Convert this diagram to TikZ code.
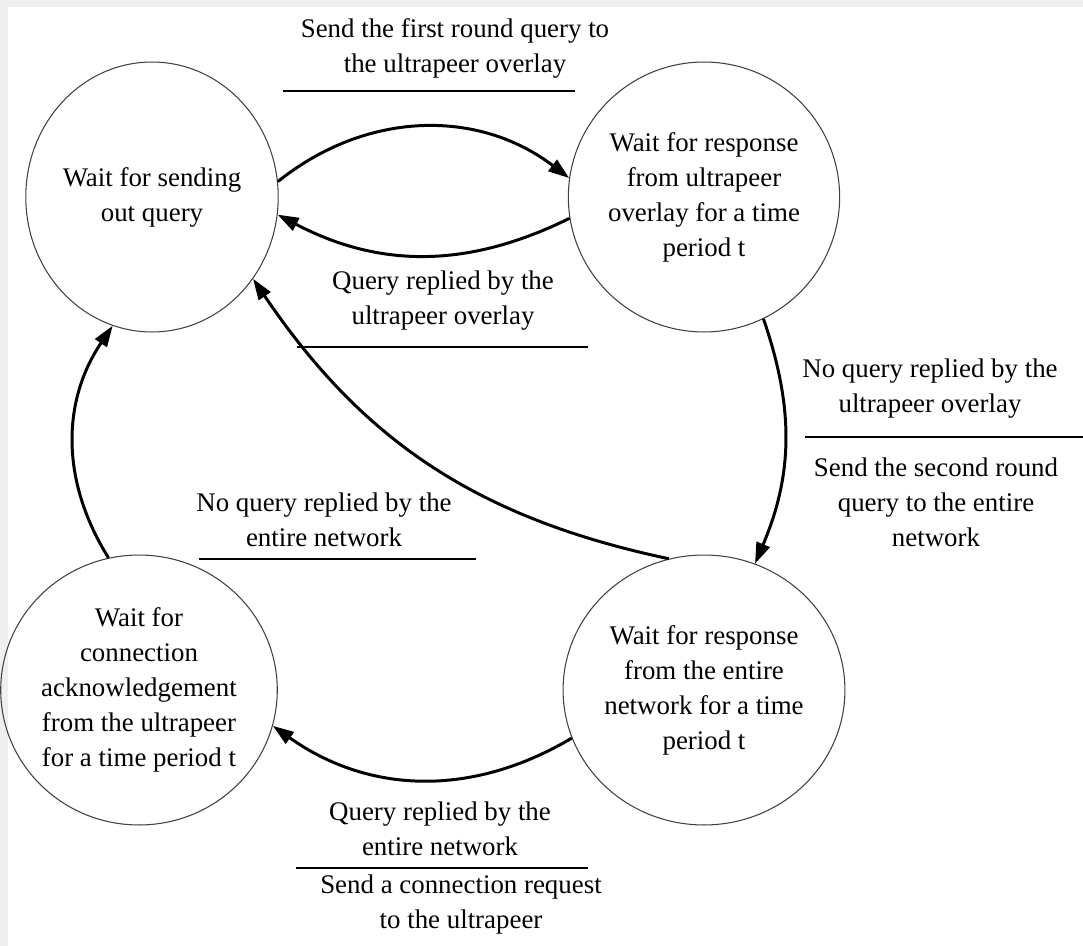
\documentclass[tikz,border=0pt]{standalone}
\usepackage{fontspec}
\setmainfont{Liberation Serif}
\usetikzlibrary{shapes.geometric,arrows.meta}
\begin{document}
\begin{tikzpicture}[x=0.02cm,y=-0.02cm,
  waitstate/.style={draw=black!75, line width=0.6pt, ellipse, inner sep=0pt,
    minimum width=4.94cm, minimum height=5.4cm, align=center,
    font=\fontsize{15.3}{19.9}\selectfont},
  cond/.style={align=center, inner sep=0pt, font=\fontsize{15.3}{19.9}\selectfont},
  trans/.style={-{Triangle[length=0.42cm,width=0.28cm]}, line width=1.7pt},
  bar/.style={line width=1.1pt}]
\useasboundingbox (0,0) rectangle (1083,946);
\fill[black!3!green!1!white!94!black] (0,0) rectangle (1083,946);
\fill[white] (8,7) rectangle (1083,946);
% states
\node[waitstate] (sending) at (152,197) {Wait for sending\\out query};
\node[waitstate] (ultra) at (704,197) {Wait for response\\from ultrapeer\\overlay for a time\\period t};
\node[waitstate] (entire) at (704,690) {Wait for response\\from the entire\\network for a time\\period t};
\node[waitstate] (ack) at (139,690) {Wait for\\connection\\acknowledgement\\from the ultrapeer\\for a time period t};
% conditions
\node[cond] (firstq) at (455,48) {Send the first round query to\\the ultrapeer overlay};
\draw[bar] (283,91) -- (575,91);
\node[cond] (replyu) at (443,301) {Query replied by the\\ultrapeer overlay};
\draw[bar] (297,347) -- (588,347);
\node[cond] (noreplyu) at (930,389) {No query replied by the\\ultrapeer overlay};
\draw[bar] (805,437) -- (1083,437);
\node[cond] (secondq) at (936,502) {Send the second round\\query to the entire\\network};
\node[cond] (noreplye) at (324,520) {No query replied by the\\entire network};
\draw[bar] (199,559) -- (476,559);
\node[cond] (replye) at (440,829) {Query replied by the\\entire network};
\draw[bar] (296,868) -- (588,868);
\node[cond] (connreq) at (461,905) {Send a connection request\\to the ultrapeer};
% transitions
\draw[trans] (sending.7.5) to[bend left=38] (ultra.172.6);
\draw[trans] (ultra.189) to[bend left=27] (sending.352);
\draw[trans] (ultra.296) to[bend left=21] (entire.68);
\draw[trans] (entire.105) to[bend left=22] (sending.321);
\draw[trans] (entire.200) to[bend left=33] (ack.345);
\draw[trans] (ack.103.5) to[bend left=33] (sending.253);
\end{tikzpicture}
\end{document}
